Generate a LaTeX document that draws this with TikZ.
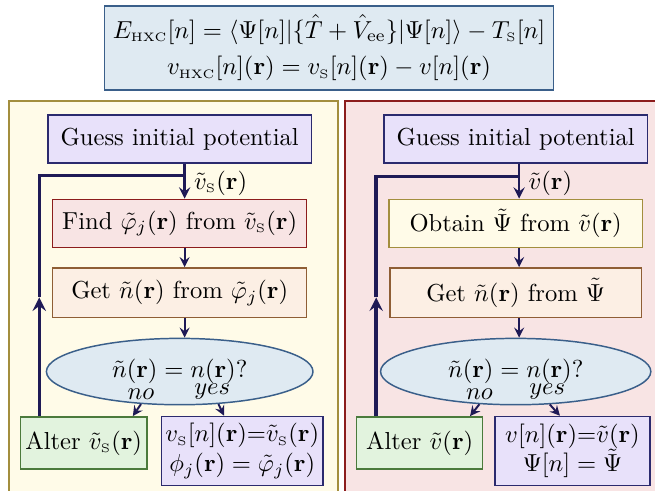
\documentclass[tikz,border=0pt]{standalone}
\usepackage{amsmath}
\usepackage{tikz}
\usetikzlibrary{shapes.geometric, arrows, positioning}

\definecolor{topfill}{HTML}{DFEAF2}
\definecolor{topdraw}{HTML}{3A5F8A}
\definecolor{yelfill}{HTML}{FFFBE8}
\definecolor{yeldraw}{HTML}{A38E3E}
\definecolor{redfill}{HTML}{F8E4E4}
\definecolor{reddraw}{HTML}{8C1C1C}
\definecolor{purfill}{HTML}{E8E1FA}
\definecolor{purdraw}{HTML}{2B2A6E}
\definecolor{orafill}{HTML}{FCEFE4}
\definecolor{oradraw}{HTML}{8F5E35}
\definecolor{grnfill}{HTML}{E2F3DE}
\definecolor{grndraw}{HTML}{4B7A3C}
\definecolor{navy}{HTML}{1F1A56}

\newcommand{\smsub}[1]{\mathrm{\scriptscriptstyle #1}}

\begin{document}
\begin{tikzpicture}[x=0.407pt, y=-0.407pt, node distance=7.6pt, auto]
    \tikzstyle{defbox} = [rectangle, minimum width=181.5pt, minimum height=34.2pt, align=center, draw=topdraw, fill=topfill, line width=0.6pt]
    \tikzstyle{guessbox} = [rectangle, minimum width=107.2pt, minimum height=19.5pt, text centered, draw=purdraw, fill=purfill, line width=0.6pt]
    \tikzstyle{findbox} = [rectangle, minimum width=103.4pt, minimum height=19.7pt, text centered, draw=reddraw, fill=redfill, line width=0.6pt]
    \tikzstyle{obtainbox} = [rectangle, minimum width=103.1pt, minimum height=19.7pt, text centered, draw=yeldraw, fill=yelfill, line width=0.6pt]
    \tikzstyle{getbox} = [rectangle, minimum width=103.4pt, minimum height=20.3pt, text centered, draw=oradraw, fill=orafill, line width=0.6pt]
    \tikzstyle{decision} = [ellipse, minimum width=108.5pt, minimum height=27pt, inner sep=0pt, text centered, draw=topdraw, fill=topfill, line width=0.6pt]
    \tikzstyle{alterbox} = [rectangle, minimum width=51.3pt, minimum height=21.3pt, inner sep=2pt, text centered, draw=grndraw, fill=grnfill, line width=0.6pt]
    \tikzstyle{resultbox} = [rectangle, minimum height=28.1pt, inner sep=1.5pt, align=center, draw=purdraw, fill=purfill, line width=0.6pt]
    \tikzstyle{arrow} = [line width=0.8pt, draw=navy, ->, >=stealth]
    \tikzstyle{feedback} = [line width=1.4pt, draw=navy]

    \clip (0,0) rectangle (655,491);

    % panels
    \filldraw[fill=yelfill, draw=yeldraw, line width=0.6pt] (9,101) rectangle (338,520);
    \filldraw[fill=redfill, draw=reddraw, line width=0.6pt] (345,101) rectangle (680,520);

    \node (defs) [defbox] at (329,48) {$E_{\smsub{HXC}}[n]=\langle\Psi[n]|\{\hat T+\hat V_{\mathrm{ee}}\}|\Psi[n]\rangle-T_{\smsub{S}}[n]$\\[3pt]
        $v_{\smsub{HXC}}[n](\mathbf{r})=v_{\smsub{S}}[n](\mathbf{r})-v[n](\mathbf{r})$};

    % Kohn-Sham side
    \node (guessL) [guessbox] at (179.7,139) {Guess initial potential};
    \node (findL) [findbox, below=14.2pt of guessL] {Find $\tilde\varphi_j(\mathbf{r})$ from $\tilde v_{\smsub{S}}(\mathbf{r})$};
    \node (getL) [getbox, below=7.6pt of findL] {Get $\tilde n(\mathbf{r})$ from $\tilde\varphi_j(\mathbf{r})$};
    \node (decL) [decision, below=7.8pt of getL] {\raisebox{3pt}{$\tilde n(\mathbf{r})=n(\mathbf{r})?$}};
    \node (alterL) [alterbox] at (83.7,443) {Alter $\tilde v_{\smsub{S}}(\mathbf{r})$};
    \node (resL) [resultbox] at (242.3,451) {$v_{\smsub{S}}[n](\mathbf{r}){=}\tilde v_{\smsub{S}}(\mathbf{r})$\\ $\phi_j(\mathbf{r})=\tilde\varphi_j(\mathbf{r})$};

    \draw [arrow, line width=1pt] ([xshift=2pt]guessL.south) -- node[right, pos=0.55, name=vsL] {$\tilde v_{\smsub{S}}(\mathbf{r})$} ([xshift=2pt]findL.north);
    \draw [arrow] ([xshift=2pt]findL.south) -- ([xshift=2pt]getL.north);
    \draw [arrow] ([xshift=2pt]getL.south) -- ([xshift=2pt]decL.north);
    \draw [arrow] (decL.220) -- node[at start, above, inner sep=1.5pt, name=noL] {$no$} ([xshift=20pt]alterL.north);
    \draw [arrow] (decL.320) -- node[at start, above, inner sep=1.5pt, xshift=-2.5pt, name=yesL] {$yes$} ([xshift=-7.4pt]resL.north);
    \draw [feedback, ->, >=stealth] ([xshift=-18.1pt]alterL.north) -- ++(0,48.3pt) coordinate (upL);
    \draw [feedback] (upL) |- ([xshift=2pt, yshift=-4.9pt]guessL.south);

    % interacting side
    \node (guessR) [guessbox] at (515.7,139) {Guess initial potential};
    \node (obtR) [obtainbox, below=14.2pt of guessR] {Obtain $\tilde\Psi$ from $\tilde v(\mathbf{r})$};
    \node (getR) [getbox, minimum width=102.4pt, below=7.6pt of obtR] {Get $\tilde n(\mathbf{r})$ from $\tilde\Psi$};
    \node (decR) [decision, minimum width=110pt, below=7.8pt of getR] {\raisebox{3pt}{$\tilde n(\mathbf{r})=n(\mathbf{r})?$}};
    \node (alterR) [alterbox] at (419.7,443) {Alter $\tilde v(\mathbf{r})$};
    \node (resR) [resultbox, minimum width=63.1pt] at (572.5,451) {$v[n](\mathbf{r}){=}\tilde v(\mathbf{r})$\\ $\Psi[n]=\tilde\Psi$};

    \draw [arrow, line width=1pt] ([xshift=1.4pt]guessR.south) -- node[right, pos=0.55, name=vR] {$\tilde v(\mathbf{r})$} ([xshift=1.4pt]obtR.north);
    \draw [arrow] ([xshift=1.4pt]obtR.south) -- ([xshift=1.4pt]getR.north);
    \draw [arrow] ([xshift=1.4pt]getR.south) -- ([xshift=1.4pt]decR.north);
    \draw [arrow] (decR.222) -- node[at start, above, inner sep=1.5pt, name=noR] {$no$} ([xshift=20.5pt]alterR.north);
    \draw [arrow] (decR.316) -- node[at start, above, inner sep=1.5pt, xshift=-1pt, name=yesR] {$yes$} ([xshift=-5.1pt]resR.north);
    \draw [feedback, ->, >=stealth] ([xshift=-17.7pt]alterR.north) -- ++(0,48.3pt) coordinate (upR);
    \draw [feedback] (upR) |- ([xshift=1.4pt, yshift=-5.3pt]guessR.south);
\end{tikzpicture}
\end{document}
